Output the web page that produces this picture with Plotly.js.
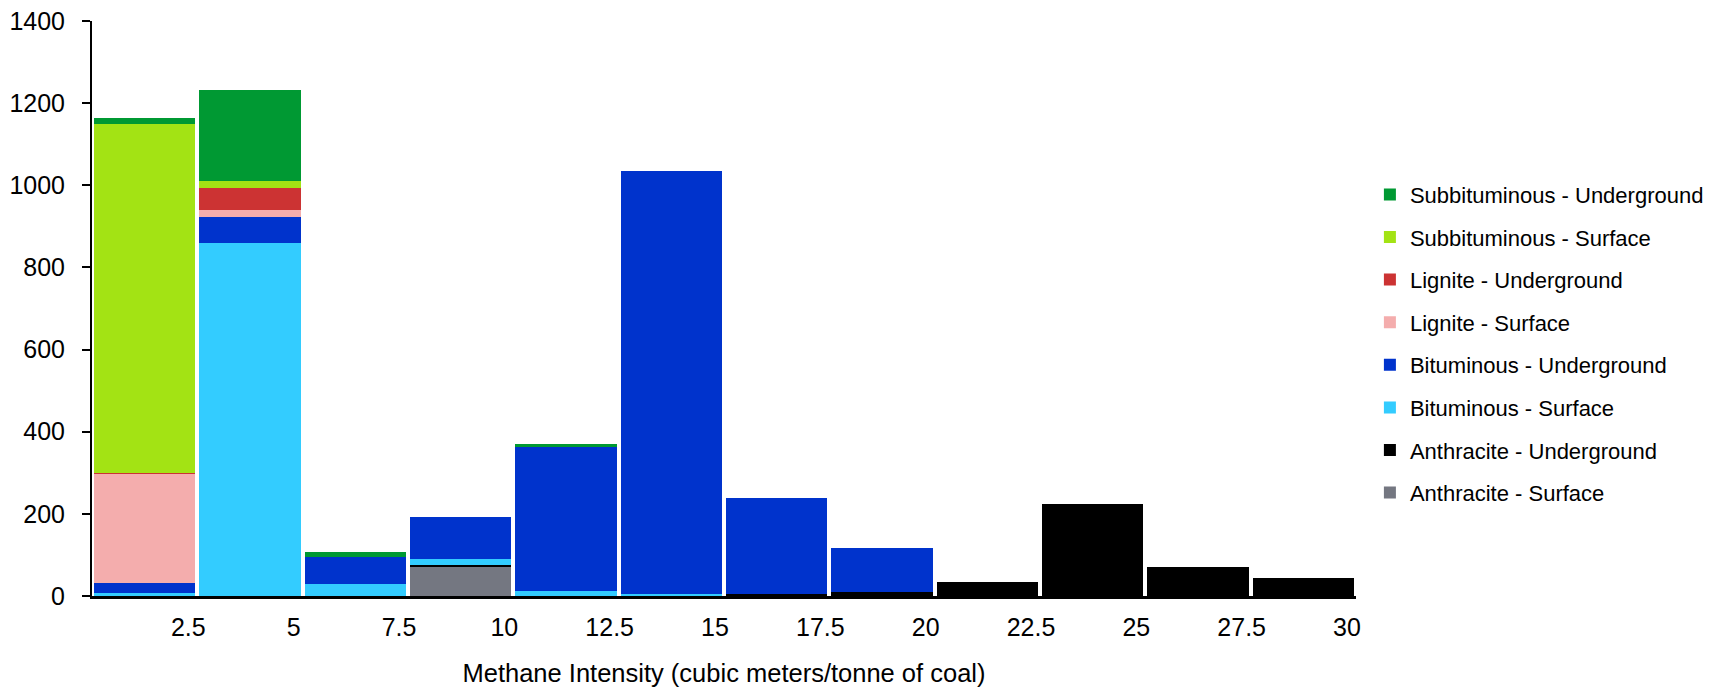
<!DOCTYPE html>
<html>
<head>
<meta charset="utf-8">
<script src="https://cdn.plot.ly/plotly-3.0.1.min.js"></script>
<style>
  html, body { margin: 0; padding: 0; background: #ffffff; }
  #chart { width: 1709px; height: 687px; }
</style>
</head>
<body>
<div id="chart"></div>
<script>
// Upper edge of each methane-intensity bin (cubic meters per tonne of coal)
const binUpper = [2.5, 5, 7.5, 10, 12.5, 15, 17.5, 20, 22.5, 25, 27.5, 30];
const binWidth = 2.5;
const tickLabels = ['2.5', '5', '7.5', '10', '12.5', '15', '17.5', '20', '22.5', '25', '27.5', '30'];

// Production per bin, by coal rank and mining method (stacked bottom to top)
const anthraciteSurface      = [0, 0, 0, 71, 0, 0, 0, 0, 0, 0, 0, 0];
const anthraciteUnderground  = [0, 0, 0, 5, 0, 0, 5, 10, 35, 225, 71, 45];
const bituminousSurface      = [8, 860, 30, 15, 13, 5, 0, 0, 0, 0, 0, 0];
const bituminousUnderground  = [23, 63, 66, 102, 351, 1029, 234, 107, 0, 0, 0, 0];
const ligniteSurface         = [267, 17, 0, 0, 0, 0, 0, 0, 0, 0, 0, 0];
const ligniteUnderground     = [2, 54, 0, 0, 0, 0, 0, 0, 0, 0, 0, 0];
const subbituminousSurface   = [849, 17, 0, 0, 0, 0, 0, 0, 0, 0, 0, 0];
const subbituminousUnderground = [14, 221, 10, 0, 5, 0, 0, 0, 0, 0, 0, 0];

const seriesNames = [
  'Anthracite - Surface',
  'Anthracite - Underground',
  'Bituminous - Surface',
  'Bituminous - Underground',
  'Lignite - Surface',
  'Lignite - Underground',
  'Subbituminous - Surface',
  'Subbituminous - Underground'
];
const seriesValues = [
  anthraciteSurface, anthraciteUnderground,
  bituminousSurface, bituminousUnderground,
  ligniteSurface, ligniteUnderground,
  subbituminousSurface, subbituminousUnderground
];
const seriesColors = [
  '#747781', '#000000',
  '#33ccff', '#0033cc',
  '#f4adad', '#cc3333',
  '#a3e314', '#009933'
];

// Each bar sits in the middle of its bin
const binCenters = binUpper.map(u => u - binWidth / 2);

const FONT = 'Liberation Sans, Arial, sans-serif';

// Legend lists the top of the stack first
const traces = seriesNames.map((name, i) => ({
  type: 'bar',
  name: name,
  x: binCenters,
  y: seriesValues[i],
  width: 2.41,
  marker: { color: seriesColors[i], line: { width: 0 } },
  legendgroup: name,
  legendrank: seriesNames.length - i,
  hoverinfo: 'skip'
}));

const layout = {
  width: 1709,
  height: 687,
  barmode: 'stack',
  paper_bgcolor: '#ffffff',
  plot_bgcolor: '#ffffff',
  font: { family: FONT, color: '#000000' },
  margin: { l: 92, r: 353, t: 21, b: 91, pad: 0, autoexpand: false },
  showlegend: true,
  legend: {
    x: 1.011,
    y: 0.439,
    xanchor: 'left',
    yanchor: 'middle',
    traceorder: 'grouped',
    tracegroupgap: 11,
    font: { family: FONT, size: 22, color: '#000000' },
    bgcolor: 'rgba(0,0,0,0)'
  },
  xaxis: {
    range: [0, 30],
    automargin: false,
    tickmode: 'array',
    tickvals: binUpper,
    ticktext: tickLabels,
    ticks: '',
    ticklabelshift: -9,
    ticklabelstandoff: 7,
    showgrid: false,
    zeroline: false,
    showline: true,
    linecolor: '#000000',
    linewidth: 3,
    tickfont: { family: FONT, size: 25, color: '#000000' },
    title: {
      text: 'Methane Intensity (cubic meters/tonne of coal)',
      font: { family: FONT, size: 25.5, color: '#000000' },
      standoff: 25
    }
  },
  yaxis: {
    range: [0, 1400],
    automargin: false,
    tickmode: 'linear',
    tick0: 0,
    dtick: 200,
    ticks: 'outside',
    ticklen: 8,
    tickwidth: 2,
    tickcolor: '#000000',
    ticklabelstandoff: 12,
    showgrid: false,
    zeroline: false,
    showline: true,
    linecolor: '#000000',
    linewidth: 2,
    tickfont: { family: FONT, size: 25, color: '#000000' }
  }
};

Plotly.newPlot('chart', traces, layout, { staticPlot: true, displayModeBar: false });
</script>
</body>
</html>
